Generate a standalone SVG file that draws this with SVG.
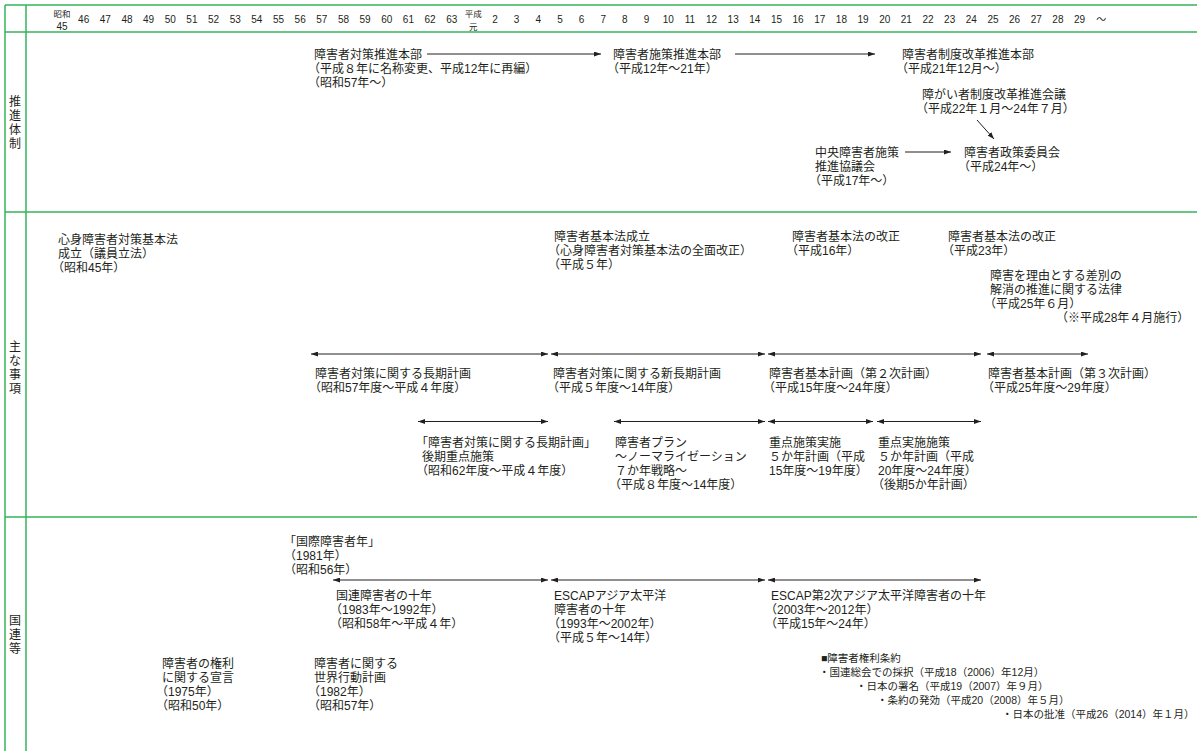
<svg xmlns="http://www.w3.org/2000/svg" width="1197" height="751" viewBox="0 0 1197 751">
<style>
text{font-family:"Liberation Sans","Noto Sans CJK JP",sans-serif;font-size:12px;fill:#231f20}
.h{font-size:10px;text-anchor:middle}
.hs{font-size:8.5px;text-anchor:middle}
.s{font-size:10.5px}
.v{text-anchor:middle}
.g{stroke:#35b35a;stroke-width:1.5;fill:none}
.c{stroke:#231f20;stroke-width:1;fill:none}
.a{marker-end:url(#ah)}
.d{marker-start:url(#ah);marker-end:url(#ah)}
</style>
<defs>
<marker id="ah" viewBox="0 0 7 5" refX="7" refY="2.5" markerWidth="7" markerHeight="5" markerUnits="userSpaceOnUse" orient="auto-start-reverse"><path d="M0,0 L7,2.5 L0,5 z" fill="#231f20"/></marker>
</defs>
<rect width="1197" height="751" fill="#fff"/>
<g id="frame">
<line class="g" x1="5" y1="5" x2="1197" y2="5"/>
<line class="g" x1="5" y1="32" x2="1197" y2="32"/>
<line class="g" x1="5" y1="212" x2="1197" y2="212"/>
<line class="g" x1="5" y1="517" x2="1197" y2="517"/>
<line class="g" x1="5" y1="5" x2="5" y2="751"/>
<line class="g" x1="26" y1="5" x2="26" y2="751"/>
</g>
<g id="axis">
<text class="hs" x="62" y="17">昭和</text><text class="h" x="62" y="29.5">45</text>
<text class="h" x="83.65" y="23.3">46</text>
<text class="h" x="105.3" y="23.3">47</text>
<text class="h" x="126.95" y="23.3">48</text>
<text class="h" x="148.6" y="23.3">49</text>
<text class="h" x="170.25" y="23.3">50</text>
<text class="h" x="191.9" y="23.3">51</text>
<text class="h" x="213.55" y="23.3">52</text>
<text class="h" x="235.2" y="23.3">53</text>
<text class="h" x="256.85" y="23.3">54</text>
<text class="h" x="278.5" y="23.3">55</text>
<text class="h" x="300.15" y="23.3">56</text>
<text class="h" x="321.8" y="23.3">57</text>
<text class="h" x="343.45" y="23.3">58</text>
<text class="h" x="365.1" y="23.3">59</text>
<text class="h" x="386.75" y="23.3">60</text>
<text class="h" x="408.4" y="23.3">61</text>
<text class="h" x="430.05" y="23.3">62</text>
<text class="h" x="451.7" y="23.3">63</text>
<text class="hs" x="473.35" y="17">平成</text><text class="hs" x="473.35" y="29.5">元</text>
<text class="h" x="495" y="23.3">2</text>
<text class="h" x="516.65" y="23.3">3</text>
<text class="h" x="538.3" y="23.3">4</text>
<text class="h" x="559.95" y="23.3">5</text>
<text class="h" x="581.6" y="23.3">6</text>
<text class="h" x="603.25" y="23.3">7</text>
<text class="h" x="624.9" y="23.3">8</text>
<text class="h" x="646.55" y="23.3">9</text>
<text class="h" x="668.2" y="23.3">10</text>
<text class="h" x="689.85" y="23.3">11</text>
<text class="h" x="711.5" y="23.3">12</text>
<text class="h" x="733.15" y="23.3">13</text>
<text class="h" x="754.8" y="23.3">14</text>
<text class="h" x="776.45" y="23.3">15</text>
<text class="h" x="798.1" y="23.3">16</text>
<text class="h" x="819.75" y="23.3">17</text>
<text class="h" x="841.4" y="23.3">18</text>
<text class="h" x="863.05" y="23.3">19</text>
<text class="h" x="884.7" y="23.3">20</text>
<text class="h" x="906.35" y="23.3">21</text>
<text class="h" x="928" y="23.3">22</text>
<text class="h" x="949.65" y="23.3">23</text>
<text class="h" x="971.3" y="23.3">24</text>
<text class="h" x="992.95" y="23.3">25</text>
<text class="h" x="1014.6" y="23.3">26</text>
<text class="h" x="1036.25" y="23.3">27</text>
<text class="h" x="1057.9" y="23.3">28</text>
<text class="h" x="1079.55" y="23.3">29</text>
<text class="h" x="1101.2" y="23.3">〜</text>
</g>
<g id="labels">
<text class="v" x="15" y="105.5"><tspan x="15">推</tspan><tspan x="15" dy="14">進</tspan><tspan x="15" dy="14">体</tspan><tspan x="15" dy="14">制</tspan></text>
<text class="v" x="15" y="350.5"><tspan x="15">主</tspan><tspan x="15" dy="14">な</tspan><tspan x="15" dy="14">事</tspan><tspan x="15" dy="14">項</tspan></text>
<text class="v" x="15" y="624.5"><tspan x="15">国</tspan><tspan x="15" dy="14">連</tspan><tspan x="15" dy="14">等</tspan></text>
</g>
<g id="connectors">
<line class="c a" x1="427" y1="54" x2="601" y2="54"/>
<line class="c a" x1="735" y1="54" x2="875" y2="54"/>
<line class="c a" x1="977" y1="120" x2="994" y2="139"/>
<line class="c a" x1="905" y1="152" x2="951" y2="152"/>
<line class="c d" x1="311" y1="354" x2="548" y2="354"/>
<line class="c d" x1="551" y1="354" x2="765" y2="354"/>
<line class="c d" x1="768" y1="354" x2="981" y2="354"/>
<line class="c d" x1="987" y1="354" x2="1088" y2="354"/>
<line class="c d" x1="418" y1="421.5" x2="548" y2="421.5"/>
<line class="c d" x1="614" y1="421.5" x2="765" y2="421.5"/>
<line class="c d" x1="768" y1="421.5" x2="873" y2="421.5"/>
<line class="c d" x1="877" y1="421.5" x2="981" y2="421.5"/>
<line class="c d" x1="333" y1="580" x2="548" y2="580"/>
<line class="c d" x1="551" y1="580" x2="765" y2="580"/>
<line class="c d" x1="768" y1="580" x2="981" y2="580"/>
</g>
<g id="n1"><text y="58.5"><tspan x="314">障害者対策推進本部</tspan><tspan x="308" dy="14">（平成８年に名称変更、平成12年に再編）</tspan><tspan x="308" dy="14">（昭和57年〜）</tspan></text></g>
<g id="n2"><text y="58.5"><tspan x="613">障害者施策推進本部</tspan><tspan x="607" dy="14">（平成12年〜21年）</tspan></text></g>
<g id="n3"><text y="58.5"><tspan x="902">障害者制度改革推進本部</tspan><tspan x="896" dy="14">（平成21年12月〜）</tspan></text></g>
<g id="n4"><text y="98.5"><tspan x="922">障がい者制度改革推進会議</tspan><tspan x="916" dy="14">（平成22年１月〜24年７月）</tspan></text></g>
<g id="n5"><text y="156.5"><tspan x="815">中央障害者施策</tspan><tspan x="815" dy="14">推進協議会</tspan><tspan x="809" dy="14">（平成17年〜）</tspan></text></g>
<g id="n6"><text y="156.5"><tspan x="964">障害者政策委員会</tspan><tspan x="958" dy="14">（平成24年〜）</tspan></text></g>
<g id="n7"><text y="243.5"><tspan x="58">心身障害者対策基本法</tspan><tspan x="58" dy="14">成立（議員立法）</tspan><tspan x="52" dy="14">（昭和45年）</tspan></text></g>
<g id="n8"><text y="240.5"><tspan x="554">障害者基本法成立</tspan><tspan x="548" dy="14">（心身障害者対策基本法の全面改正）</tspan><tspan x="548" dy="14">（平成５年）</tspan></text></g>
<g id="n9"><text y="240.5"><tspan x="792">障害者基本法の改正</tspan><tspan x="786" dy="14">（平成16年）</tspan></text></g>
<g id="n10"><text y="240.5"><tspan x="948">障害者基本法の改正</tspan><tspan x="942" dy="14">（平成23年）</tspan></text></g>
<g id="n11"><text y="279.5"><tspan x="990">障害を理由とする差別の</tspan><tspan x="990" dy="14">解消の推進に関する法律</tspan><tspan x="984" dy="14">（平成25年６月）</tspan><tspan x="1056" dy="14">（※平成28年４月施行）</tspan></text></g>
<g id="n12"><text y="377.5"><tspan x="315">障害者対策に関する長期計画</tspan><tspan x="309" dy="14">（昭和57年度〜平成４年度）</tspan></text></g>
<g id="n13"><text y="377.5"><tspan x="553">障害者対策に関する新長期計画</tspan><tspan x="547" dy="14">（平成５年度〜14年度）</tspan></text></g>
<g id="n14"><text y="377.5"><tspan x="769">障害者基本計画（第２次計画）</tspan><tspan x="763" dy="14">（平成15年度〜24年度）</tspan></text></g>
<g id="n15"><text y="377.5"><tspan x="988">障害者基本計画（第３次計画）</tspan><tspan x="982" dy="14">（平成25年度〜29年度）</tspan></text></g>
<g id="n16"><text y="446.5"><tspan x="416">「障害者対策に関する長期計画」</tspan><tspan x="422" dy="14">後期重点施策</tspan><tspan x="416" dy="14">（昭和62年度〜平成４年度）</tspan></text></g>
<g id="n17"><text y="446.5"><tspan x="615">障害者プラン</tspan><tspan x="615" dy="14">〜ノーマライゼーション</tspan><tspan x="615" dy="14">７か年戦略〜</tspan><tspan x="609" dy="14">（平成８年度〜14年度）</tspan></text></g>
<g id="n18"><text y="446.5"><tspan x="769">重点施策実施</tspan><tspan x="769" dy="14">５か年計画（平成</tspan><tspan x="769" dy="14">15年度〜19年度）</tspan></text></g>
<g id="n19"><text y="446.5"><tspan x="878">重点実施施策</tspan><tspan x="878" dy="14">５か年計画（平成</tspan><tspan x="878" dy="14">20年度〜24年度）</tspan><tspan x="872" dy="14">（後期5か年計画）</tspan></text></g>
<g id="n20"><text y="545.5"><tspan x="284">「国際障害者年」</tspan><tspan x="284" dy="14">（1981年）</tspan><tspan x="284" dy="14">（昭和56年）</tspan></text></g>
<g id="n21"><text y="599.5"><tspan x="336">国連障害者の十年</tspan><tspan x="330" dy="14">（1983年〜1992年）</tspan><tspan x="330" dy="14">（昭和58年〜平成４年）</tspan></text></g>
<g id="n22"><text y="599.5"><tspan x="554">ESCAPアジア太平洋</tspan><tspan x="554" dy="14">障害者の十年</tspan><tspan x="548" dy="14">（1993年〜2002年）</tspan><tspan x="548" dy="14">（平成５年〜14年）</tspan></text></g>
<g id="n23"><text y="599.5"><tspan x="771">ESCAP第2次アジア太平洋障害者の十年</tspan><tspan x="765" dy="14">（2003年〜2012年）</tspan><tspan x="765" dy="14">（平成15年〜24年）</tspan></text></g>
<g id="n24"><text y="667.5"><tspan x="162">障害者の権利</tspan><tspan x="162" dy="14">に関する宣言</tspan><tspan x="156" dy="14">（1975年）</tspan><tspan x="156" dy="14">（昭和50年）</tspan></text></g>
<g id="n25"><text y="667.5"><tspan x="314">障害者に関する</tspan><tspan x="314" dy="14">世界行動計画</tspan><tspan x="308" dy="14">（1982年）</tspan><tspan x="308" dy="14">（昭和57年）</tspan></text></g>
<g id="n26"><text class="s" y="661.5"><tspan x="821">■障害者権利条約</tspan><tspan x="819" dy="14">・国連総会での採択（平成18（2006）年12月）</tspan><tspan x="856" dy="14">・日本の署名（平成19（2007）年９月）</tspan><tspan x="877" dy="14">・条約の発効（平成20（2008）年５月）</tspan><tspan x="1002" dy="14">・日本の批准（平成26（2014）年１月）</tspan></text></g>
</svg>
